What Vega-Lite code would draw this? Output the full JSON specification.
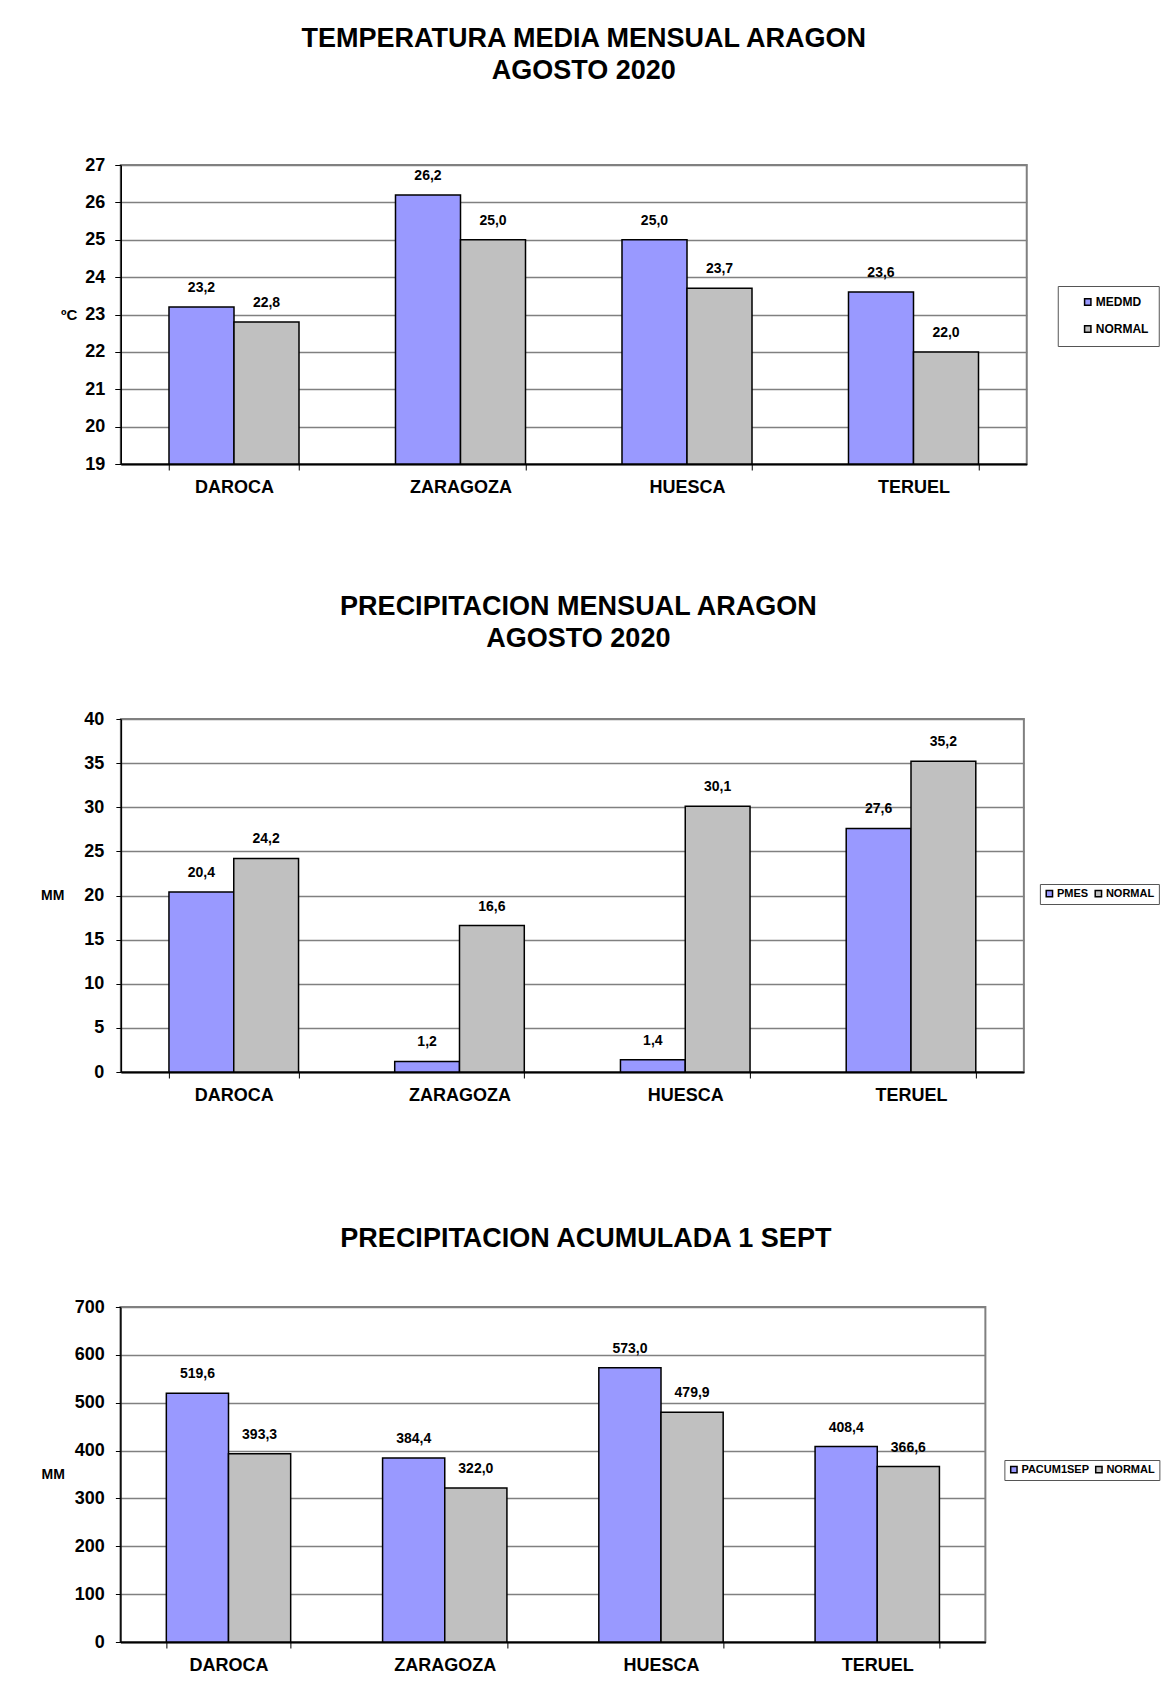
{
  "$schema": "https://vega.github.io/schema/vega-lite/v6.json",
  "background": "white",
  "padding": {"left": 39, "top": 24, "right": 5, "bottom": 5},
  "datasets": {
    "temp": [
      {"station": "DAROCA", "series": "MEDMD", "value": 23.2},
      {"station": "DAROCA", "series": "NORMAL", "value": 22.8},
      {"station": "ZARAGOZA", "series": "MEDMD", "value": 26.2},
      {"station": "ZARAGOZA", "series": "NORMAL", "value": 25.0},
      {"station": "HUESCA", "series": "MEDMD", "value": 25.0},
      {"station": "HUESCA", "series": "NORMAL", "value": 23.7},
      {"station": "TERUEL", "series": "MEDMD", "value": 23.6},
      {"station": "TERUEL", "series": "NORMAL", "value": 22.0}
    ],
    "pmes": [
      {"station": "DAROCA", "series": "PMES", "value": 20.4},
      {"station": "DAROCA", "series": "NORMAL", "value": 24.2},
      {"station": "ZARAGOZA", "series": "PMES", "value": 1.2},
      {"station": "ZARAGOZA", "series": "NORMAL", "value": 16.6},
      {"station": "HUESCA", "series": "PMES", "value": 1.4},
      {"station": "HUESCA", "series": "NORMAL", "value": 30.1},
      {"station": "TERUEL", "series": "PMES", "value": 27.6},
      {"station": "TERUEL", "series": "NORMAL", "value": 35.2}
    ],
    "pacum": [
      {"station": "DAROCA", "series": "PACUM1SEP", "value": 519.6},
      {"station": "DAROCA", "series": "NORMAL", "value": 393.3},
      {"station": "ZARAGOZA", "series": "PACUM1SEP", "value": 384.4},
      {"station": "ZARAGOZA", "series": "NORMAL", "value": 322.0},
      {"station": "HUESCA", "series": "PACUM1SEP", "value": 573.0},
      {"station": "HUESCA", "series": "NORMAL", "value": 479.9},
      {"station": "TERUEL", "series": "PACUM1SEP", "value": 408.4},
      {"station": "TERUEL", "series": "NORMAL", "value": 366.6}
    ]
  },
  "center": true,
  "spacing": 95,
  "resolve": {"scale": {"x": "independent", "y": "independent", "color": "independent", "xOffset": "independent"}, "legend": {"color": "independent"}},
  "vconcat": [
    {
      "width": 906,
      "height": 299,
      "data": {"name": "temp"},
      "title": {"text": ["TEMPERATURA MEDIA MENSUAL ARAGON", "AGOSTO 2020"], "dx": 10, "offset": 71},
      "encoding": {
        "x": {"field": "station", "type": "nominal", "sort": ["DAROCA", "ZARAGOZA", "HUESCA", "TERUEL"], "scale": {"paddingInner": 0.426, "paddingOuter": 0.213}, "axis": {"title": null}},
        "xOffset": {"field": "series", "type": "nominal", "sort": ["MEDMD", "NORMAL"], "scale": {"paddingInner": 0, "paddingOuter": 0}},
        "y": {"field": "value", "type": "quantitative", "scale": {"domain": [19, 27], "zero": false, "nice": false}, "axis": {"title": "ºC", "titleFontSize": 15, "values": [19, 20, 21, 22, 23, 24, 25, 26, 27], "titlePadding": 8, "tickSize": 6, "labelPadding": 10}}
      },
      "layer": [
        {
          "mark": {"type": "bar", "stroke": "black", "strokeWidth": 1.5},
          "encoding": {
            "y2": {"datum": 19},
            "color": {"field": "series", "type": "nominal", "scale": {"domain": ["MEDMD", "NORMAL"], "range": ["#9999FF", "#C0C0C0"]},
              "legend": {"title": null, "orient": "none", "legendX": 937, "legendY": 121, "direction": "vertical", "rowPadding": 13, "padding": 10, "symbolOffset": 14, "labelExpr": "datum.label + '    '"}}
          }
        },
        {
          "mark": {"type": "text", "baseline": "bottom", "dy": -12, "fontSize": 14, "fontWeight": "bold", "font": "Liberation Sans", "color": "black"},
          "encoding": {"text": {"field": "value", "type": "quantitative", "format": ".1f"}}
        }
      ]
    },
    {
      "center": true,
      "spacing": 119,
      "resolve": {"scale": {"x": "independent", "y": "independent", "color": "independent", "xOffset": "independent"}, "legend": {"color": "independent"}},
      "vconcat": [
        {
          "width": 903,
          "height": 353,
          "data": {"name": "pmes"},
          "title": {"text": ["PRECIPITACION MENSUAL ARAGON", "AGOSTO 2020"], "dx": 6, "offset": 57},
          "encoding": {
            "x": {"field": "station", "type": "nominal", "sort": ["DAROCA", "ZARAGOZA", "HUESCA", "TERUEL"], "scale": {"paddingInner": 0.426, "paddingOuter": 0.213}, "axis": {"title": null}},
            "xOffset": {"field": "series", "type": "nominal", "sort": ["PMES", "NORMAL"], "scale": {"paddingInner": 0, "paddingOuter": 0}},
            "y": {"field": "value", "type": "quantitative", "scale": {"domain": [0, 40], "nice": false}, "axis": {"title": "MM", "values": [0, 5, 10, 15, 20, 25, 30, 35, 40], "titlePadding": 20, "tickSize": 5, "labelPadding": 12}}
          },
          "layer": [
            {
              "mark": {"type": "bar", "stroke": "black", "strokeWidth": 1.5},
              "encoding": {
                "color": {"field": "series", "type": "nominal", "scale": {"domain": ["PMES", "NORMAL"], "range": ["#9999FF", "#C0C0C0"]},
                  "legend": {"title": null, "orient": "none", "legendX": 919, "legendY": 165, "direction": "horizontal", "columnPadding": 3, "padding": 4, "symbolOffset": 0, "labelOffset": 2, "labelFontSize": 11}}
              }
            },
            {
              "mark": {"type": "text", "baseline": "bottom", "dy": -12, "fontSize": 14, "fontWeight": "bold", "font": "Liberation Sans", "color": "black"},
              "encoding": {"text": {"field": "value", "type": "quantitative", "format": ".1f"}}
            }
          ]
        },
        {
          "width": 865,
          "height": 335,
          "data": {"name": "pacum"},
          "title": {"text": "PRECIPITACION ACUMULADA 1 SEPT", "dx": 33, "offset": 45},
          "encoding": {
            "x": {"field": "station", "type": "nominal", "sort": ["DAROCA", "ZARAGOZA", "HUESCA", "TERUEL"], "scale": {"paddingInner": 0.425, "paddingOuter": 0.2125}, "axis": {"title": null}},
            "xOffset": {"field": "series", "type": "nominal", "sort": ["PACUM1SEP", "NORMAL"], "scale": {"paddingInner": 0, "paddingOuter": 0}},
            "y": {"field": "value", "type": "quantitative", "scale": {"domain": [0, 700], "nice": false}, "axis": {"title": "MM", "values": [0, 100, 200, 300, 400, 500, 600, 700], "titlePadding": 10, "tickSize": 5, "labelPadding": 11}}
          },
          "layer": [
            {
              "mark": {"type": "bar", "stroke": "black", "strokeWidth": 1.5},
              "encoding": {
                "color": {"field": "series", "type": "nominal", "scale": {"domain": ["PACUM1SEP", "NORMAL"], "range": ["#9999FF", "#C0C0C0"]},
                  "legend": {"title": null, "orient": "none", "legendX": 884, "legendY": 153, "direction": "horizontal", "columnPadding": 3, "padding": 4, "symbolOffset": 0, "labelOffset": 2, "labelFontSize": 11}}
              }
            },
            {
              "mark": {"type": "text", "baseline": "bottom", "dy": -12, "fontSize": 14, "fontWeight": "bold", "font": "Liberation Sans", "color": "black"},
              "encoding": {"text": {"field": "value", "type": "quantitative", "format": ".1f"}}
            }
          ]
        }
      ]
    }
  ],
  "config": {
    "locale": {"number": {"decimal": ",", "thousands": ".", "grouping": [3], "currency": ["", " €"]}},
    "font": "Liberation Sans",
    "view": {"stroke": "#808080", "strokeWidth": 2},
    "title": {"font": "Liberation Sans", "fontSize": 27, "fontWeight": "bold", "color": "black", "anchor": "middle", "frame": "group", "lineHeight": 32},
    "axis": {"labelFont": "Liberation Sans", "labelFontWeight": "bold", "labelColor": "black", "labelFontSize": 18, "titleFont": "Liberation Sans", "titleFontWeight": "bold", "titleColor": "black", "titleFontSize": 14, "domainColor": "black", "tickColor": "black"},
    "axisY": {"grid": true, "gridColor": "#808080", "gridWidth": 1.5, "domainWidth": 1.5, "titleAngle": 0, "titleBaseline": "middle", "titleAlign": "right"},
    "axisX": {"grid": false, "domainWidth": 2, "tickBand": "extent", "tickSize": 6, "labelPadding": 8, "labelAngle": 0},
    "legend": {"strokeColor": "#555555", "fillColor": "white", "symbolType": "square", "symbolSize": 40, "symbolStrokeColor": "black", "symbolStrokeWidth": 1.5, "labelFont": "Liberation Sans", "labelFontSize": 12, "labelFontWeight": "bold", "labelColor": "black", "labelOffset": 2}
  }
}
